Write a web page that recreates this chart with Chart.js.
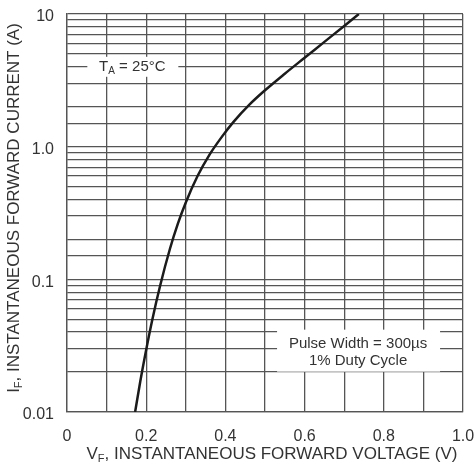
<!DOCTYPE html>
<html>
<head>
<meta charset="utf-8">
<script src="https://cdn.jsdelivr.net/npm/chart.js@4.4.1/dist/chart.umd.min.js"></script>
<style>
  html, body { margin: 0; padding: 0; background: #fff; }
  #wrap { width: 474px; height: 465px; position: relative; }
</style>
</head>
<body>
<div id="wrap"><canvas id="chart"></canvas></div>
<script>
// Curva (V_F em volts, I_F em amperes)
const forwardVoltage = [0.172, 0.185, 0.200, 0.215, 0.235, 0.260, 0.280, 0.300, 0.330, 0.360,
  0.390, 0.420, 0.460, 0.500, 0.550, 0.600, 0.650, 0.700, 0.737];
const forwardCurrent = [0.01, 0.017, 0.0295, 0.049, 0.0891, 0.17, 0.263, 0.38, 0.603, 0.871,
  1.175, 1.531, 2.065, 2.661, 3.548, 4.677, 6.166, 8.128, 10.0];

const xTickLabels = ["0", "0.2", "0.4", "0.6", "0.8", "1.0"];
const yTickValues = [0.01, 0.1, 1, 10];
const yTickLabels = ["0.01", "0.1", "1.0", "10"];

const FONT = '"Liberation Sans", Arial, sans-serif';
const TEXT = "#333";
const GRID = "#555";

// texto com subscrito: "I" + "F" + ", INSTANT..."
function subText(ctx, main, sub, rest, size) {
  ctx.font = size + "px " + FONT;
  const w1 = ctx.measureText(main).width;
  const w3 = ctx.measureText(rest).width;
  ctx.font = Math.round(size * 0.65) + "px " + FONT;
  const w2 = ctx.measureText(sub).width;
  return {
    width: w1 + w2 + w3,
    draw(x, y) {
      ctx.textAlign = "left";
      ctx.textBaseline = "middle";
      ctx.font = size + "px " + FONT;
      ctx.fillText(main, x, y);
      ctx.font = Math.round(size * 0.65) + "px " + FONT;
      ctx.fillText(sub, x + w1, y + size * 0.3);
      ctx.font = size + "px " + FONT;
      ctx.fillText(rest, x + w1 + w2, y);
    },
  };
}

const labelsPlugin = {
  id: "labels",
  beforeDatasetsDraw(chart) {
    const ctx = chart.ctx;
    const xs = chart.scales.x;
    const ys = chart.scales.y;
    ctx.save();

    // T_A = 25°C
    let cx = xs.getPixelForValue(0.165);
    let cy = ys.getPixelForValue(4);
    ctx.fillStyle = "#fff";
    ctx.fillRect(cx - 45, cy - 10, 91, 20);
    ctx.fillStyle = TEXT;
    let t = subText(ctx, "T", "A", " = 25°C", 15);
    t.draw(cx - t.width / 2, cy);

    // Pulse Width box
    cx = xs.getPixelForValue(0.735);
    cy = ys.getPixelForValue(0.0285);
    ctx.fillStyle = "#fff";
    ctx.fillRect(cx - 81, cy - 22, 163, 42);
    ctx.fillStyle = TEXT;
    ctx.font = "15px " + FONT;
    ctx.textAlign = "center";
    ctx.textBaseline = "middle";
    ctx.fillText("Pulse Width = 300µs", cx, cy - 8);
    ctx.fillText("1% Duty Cycle", cx, cy + 9);
    ctx.restore();
  },
  afterDraw(chart) {
    const ctx = chart.ctx;
    const area = chart.chartArea;
    ctx.save();
    ctx.fillStyle = TEXT;
    let t = subText(ctx, "V", "F", ", INSTANTANEOUS FORWARD VOLTAGE (V)", 17);
    t.draw(272 - t.width / 2, 454);

    ctx.translate(14, (area.top + area.bottom) / 2 - 5);
    ctx.rotate(-Math.PI / 2);
    t = subText(ctx, "I", "F", ", INSTANTANEOUS FORWARD CURRENT (A)", 17);
    t.draw(-t.width / 2, 0);
    ctx.restore();
  },
};

new Chart(document.getElementById("chart"), {
  type: "scatter",
  data: {
    datasets: [
      {
        data: forwardVoltage.map((v, i) => ({ x: v, y: forwardCurrent[i] })),
        showLine: true,
        borderColor: "#1b1b1b",
        borderWidth: 2.5,
        pointRadius: 0,
        cubicInterpolationMode: "monotone",
      },
    ],
  },
  options: {
    responsive: true,
    maintainAspectRatio: false,
    animation: false,
    layout: { padding: { left: 0, right: 11, top: 14, bottom: 0 } },
    plugins: {
      legend: { display: false },
      tooltip: { enabled: false },
    },
    scales: {
      x: {
        type: "linear",
        min: 0,
        max: 1,
        afterFit: (scale) => {
          scale.height = 53;
          scale.paddingLeft = 0;
          scale.paddingRight = 0;
        },
        grid: { color: GRID, lineWidth: 1.3, drawTicks: false },
        border: { color: GRID, width: 1.3 },
        ticks: {
          stepSize: 0.1,
          autoSkip: false,
          maxRotation: 0,
          padding: 15,
          color: TEXT,
          font: { family: FONT, size: 16 },
          callback: function (value) {
            const i = Math.round(value * 10);
            return i % 2 === 0 ? xTickLabels[i / 2] : "";
          },
        },
      },
      y: {
        type: "logarithmic",
        min: 0.01,
        max: 10,
        afterFit: (scale) => {
          scale.width = 67;
          scale.paddingTop = 0;
          scale.paddingBottom = 0;
        },
        grid: { color: GRID, lineWidth: 1.3, drawTicks: false },
        border: { color: GRID, width: 1.3 },
        ticks: {
          autoSkip: false,
          padding: 13,
          labelOffset: 3,
          color: TEXT,
          font: { family: FONT, size: 16 },
          callback: function (value) {
            const i = yTickValues.findIndex((v) => Math.abs(Math.log10(v) - Math.log10(value)) < 1e-6);
            return i >= 0 ? yTickLabels[i] : "";
          },
        },
      },
    },
  },
  plugins: [labelsPlugin],
});
</script>
</body>
</html>
